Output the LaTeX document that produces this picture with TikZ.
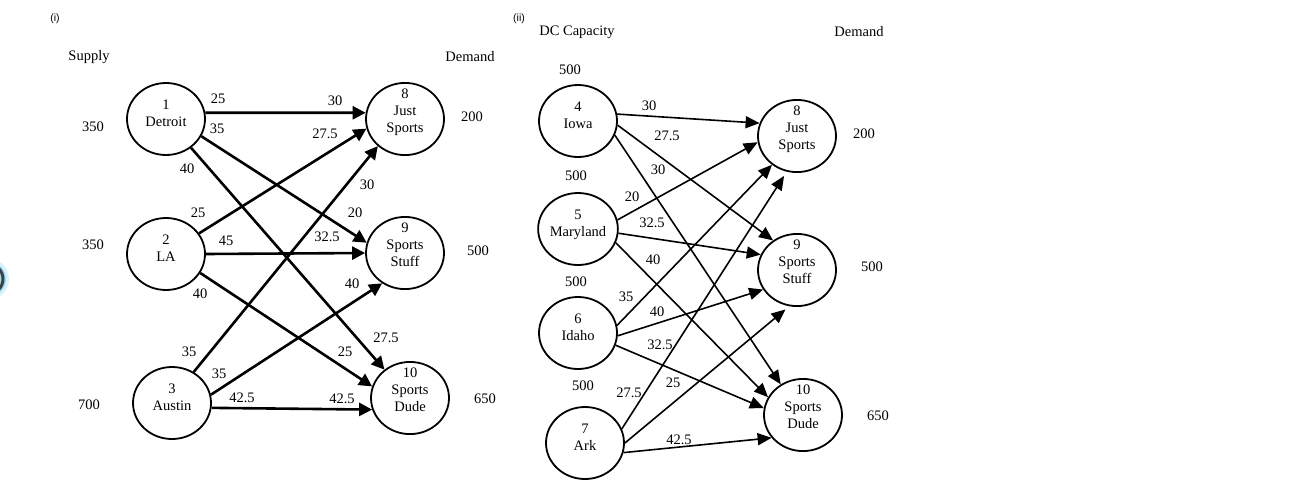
\documentclass[tikz,border=0pt]{standalone}
\usepackage{fontspec}
\setmainfont{Liberation Serif}
\newfontfamily\labsans{Liberation Sans}
\usetikzlibrary{arrows.meta,shapes.geometric}
\newcommand\myfs{\fontsize{14.5}{17}\selectfont}
\newcommand\twol[2]{\raisebox{4pt}[\height][\depth]{\begin{tabular}{@{}c@{}}#1\\#2\end{tabular}}}
\newcommand\threel[3]{\raisebox{7pt}[\height][\depth]{\begin{tabular}{@{}c@{}}#1\\#2\\#3\end{tabular}}}
\begin{document}
\begin{tikzpicture}[x=1pt,y=-1pt,
  city/.style={ellipse,draw,line width=1.8pt,minimum width=78pt,minimum height=72pt,inner sep=0pt,font=\myfs},
  txt/.style={inner sep=0pt,font=\myfs},
  tag/.style={inner sep=0pt,font=\labsans\fontsize{10.5}{12}\selectfont},
  thk/.style={line width=2.6pt,-{Triangle[length=13pt,width=13pt]}},
  thn/.style={line width=1.6pt,-{Triangle[length=14pt,width=12pt]}}]
\useasboundingbox[fill=white] (0,0) rectangle (1295,490);
% artifact at left edge
\draw[cyan!15,line width=12pt] (-12,279) circle[radius=15];
\draw[cyan!40,line width=6pt] (-12,279) circle[radius=15];
\draw[black!75,line width=3pt] (-12,279) circle[radius=15];
% ---------- (i) ----------
\node[tag] (ti) at (55,19) {(i)};
\node[txt] (sup) at (89,57) {Supply};
\node[txt] (dem) at (470,57) {Demand};
\node[city] (l1) at (166,119) {\twol{1}{Detroit}};
\node[city] (l2) at (166,254) {\twol{2}{LA}};
\node[city] (l3) at (172,403) {\twol{3}{Austin}};
\node[city] (l8) at (405,119) {\threel{8}{Just}{Sports}};
\node[city] (l9) at (405,253) {\threel{9}{Sports}{Stuff}};
\node[city] (l10) at (410,398) {\threel{10}{Sports}{Dude}};
\node[txt] (s1) at (93,127) {350};
\node[txt] (s2) at (93,245) {350};
\node[txt] (s3) at (89,405) {700};
\node[txt] (d8) at (472,117) {200};
\node[txt] (d9) at (478,251) {500};
\node[txt] (d10) at (485,399) {650};
\draw[thk] (l1.9) -- (l8.171);
\draw[thk] (l1.-26) -- (l9.165);
\draw[thk] (l1.-49) -- (l10.132);
\draw[thk] (l2.32) -- (l8.194);
\draw[thk] (l2.0) -- (l9.180);
\draw[thk] (l2.-29) -- (l10.163);
\draw[thk] (l3.55) -- (l8.225);
\draw[thk] (l3.12) -- (l9.233);
\draw[thk] (l3.-7) -- (l10.197);
\node[txt] (c1) at (218,99) {25};
\node[txt] (c2) at (335,101) {30};
\node[txt] (c3) at (217,129) {35};
\node[txt] (c4) at (325,134) {27.5};
\node[txt] (c5) at (187,169) {40};
\node[txt] (c6) at (367,185) {30};
\node[txt] (c7) at (198,213) {25};
\node[txt] (c8) at (355,213) {20};
\node[txt] (c9) at (226,241) {45};
\node[txt] (c10) at (327,237) {32.5};
\node[txt] (c11) at (200,294) {40};
\node[txt] (c12) at (352,284) {40};
\node[txt] (c13) at (386,338) {27.5};
\node[txt] (c14) at (189,352) {35};
\node[txt] (c15) at (345,352) {25};
\node[txt] (c16) at (219,374) {35};
\node[txt] (c17) at (242,398) {42.5};
\node[txt] (c18) at (342,399) {42.5};
% ---------- (ii) ----------
\node[tag] (tii) at (519,19) {(ii)};
\node[txt] (dcc) at (577,32) {DC Capacity};
\node[txt] (dem2) at (859,32) {Demand};
\node[city] (r4) at (578,121) {\twol{4}{Iowa}};
\node[city] (r5) at (578,229) {\twol{5}{Maryland}};
\node[city] (r6) at (578,333) {\twol{6}{Idaho}};
\node[city] (r7) at (585,443) {\twol{7}{Ark}};
\node[city] (r8) at (797,136) {\threel{8}{Just}{Sports}};
\node[city] (r9) at (797,270) {\threel{9}{Sports}{Stuff}};
\node[city] (r10) at (803,415) {\threel{10}{Sports}{Dude}};
\node[txt] (k4) at (570,70) {500};
\node[txt] (k5) at (576,176) {500};
\node[txt] (k6) at (576,282) {500};
\node[txt] (k7) at (583,386) {500};
\node[txt] (e8) at (864,134) {200};
\node[txt] (e9) at (872,267) {500};
\node[txt] (e10) at (878,416) {650};
\draw[thn] (r4.10) -- (r8.161);
\draw[thn] (r4.-6) -- (r9.129);
\draw[thn] (r4.-21) -- (r10.126);
\draw[thn] (r5.13) -- (r8.189);
\draw[thn] (r5.-6) -- (r9.157);
\draw[thn] (r5.-20) -- (r10.153);
\draw[thn] (r6.11) -- (r8.229);
\draw[thn] (r6.-4) -- (r9.210);
\draw[thn] (r6.-18) -- (r10.170);
\draw[thn,shorten >=5pt] (r7.21) -- (r8.254);
\draw[thn,shorten >=5pt] (r7.0) -- (r9.258);
\draw[thn] (r7.-14) -- (r10.216);
\node[txt] (f1) at (649,106) {30};
\node[txt] (f2) at (667,136) {27.5};
\node[txt] (f3) at (658,170) {30};
\node[txt] (f4) at (632,197) {20};
\node[txt] (f5) at (652,223) {32.5};
\node[txt] (f6) at (653,260) {40};
\node[txt] (f7) at (626,297) {35};
\node[txt] (f8) at (657,312) {40};
\node[txt] (f9) at (660,345) {32.5};
\node[txt] (f10) at (629,393) {27.5};
\node[txt] (f11) at (673,383) {25};
\node[txt] (f12) at (679,440) {42.5};
\end{tikzpicture}
\end{document}
